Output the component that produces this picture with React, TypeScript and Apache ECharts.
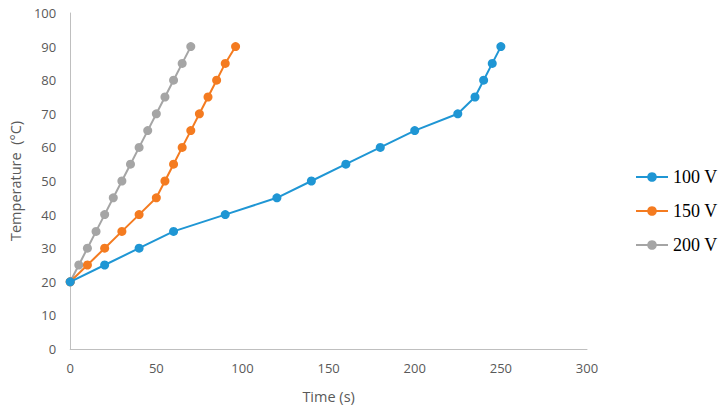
import React, { useEffect, useRef } from "react";
import * as echarts from "echarts";

const seriesNames = ["100 V", "150 V", "200 V"];
const colors = ["#1f96d4", "#f47b20", "#a5a5a5"];

const time100 = [0, 20, 40, 60, 90, 120, 140, 160, 180, 200, 225, 235, 240, 245, 250];
const temp100 = [20, 25, 30, 35, 40, 45, 50, 55, 60, 65, 70, 75, 80, 85, 90];

const time150 = [0, 10, 20, 30, 40, 50, 55, 60, 65, 70, 75, 80, 85, 90, 96];
const temp150 = [20, 25, 30, 35, 40, 45, 50, 55, 60, 65, 70, 75, 80, 85, 90];

const time200 = [0, 5, 10, 15, 20, 25, 30, 35, 40, 45, 50, 55, 60, 65, 70];
const temp200 = [20, 25, 30, 35, 40, 45, 50, 55, 60, 65, 70, 75, 80, 85, 90];

const xTitle = "Time (s)";
const yTitle = "Temperature  (°C)";

const pairs = (xs: number[], ys: number[]) => xs.map((x, i) => [x, ys[i]]);

export default function App() {
  const ref = useRef<HTMLDivElement>(null);
  useEffect(() => {
    if (!ref.current) return;
    const chart = echarts.init(ref.current, undefined, { renderer: "svg" });
    const data = [pairs(time100, temp100), pairs(time150, temp150), pairs(time200, temp200)];
    const axisFont = { fontFamily: "Open Sans", fontSize: 13, color: "#595959" };
    chart.setOption({
      animation: false,
      backgroundColor: "#ffffff",
      grid: { left: 68, right: 135, top: 13, bottom: 61, containLabel: false },
      xAxis: {
        type: "value",
        min: 0,
        max: 300,
        interval: 50,
        name: xTitle,
        nameLocation: "middle",
        nameGap: 40,
        nameTextStyle: { ...axisFont, fontSize: 14.5 },
        axisLine: { show: true, lineStyle: { color: "#bfbfbf", width: 1 } },
        axisTick: { show: false },
        splitLine: { show: false },
        axisLabel: { ...axisFont, margin: 12 },
      },
      yAxis: {
        type: "value",
        min: 0,
        max: 100,
        interval: 10,
        name: yTitle,
        nameLocation: "middle",
        nameGap: 45,
        nameTextStyle: { ...axisFont, fontSize: 14.5 },
        axisLine: { show: true, lineStyle: { color: "#bfbfbf", width: 1 } },
        axisTick: { show: false },
        splitLine: { show: false },
        axisLabel: { ...axisFont, margin: 14 },
      },
      legend: {
        orient: "vertical",
        left: 630,
        top: 162,
        itemWidth: 32,
        itemHeight: 12,
        itemGap: 14,
        textStyle: { fontFamily: "Liberation Serif", fontSize: 18, color: "#000", lineHeight: 20 },
        data: seriesNames,
      },
      series: seriesNames.map((name, i) => ({
        name,
        type: "line",
        data: data[i],
        color: colors[i],
        symbol: "circle",
        symbolSize: 9,
        lineStyle: { width: 2, color: colors[i] },
        itemStyle: { color: colors[i] },
        z: 3 - i,
      })),
    });
    return () => chart.dispose();
  }, []);
  return <div ref={ref} style={{ width: 722, height: 410, position: "absolute", left: 0, top: 0 }} />;
}
